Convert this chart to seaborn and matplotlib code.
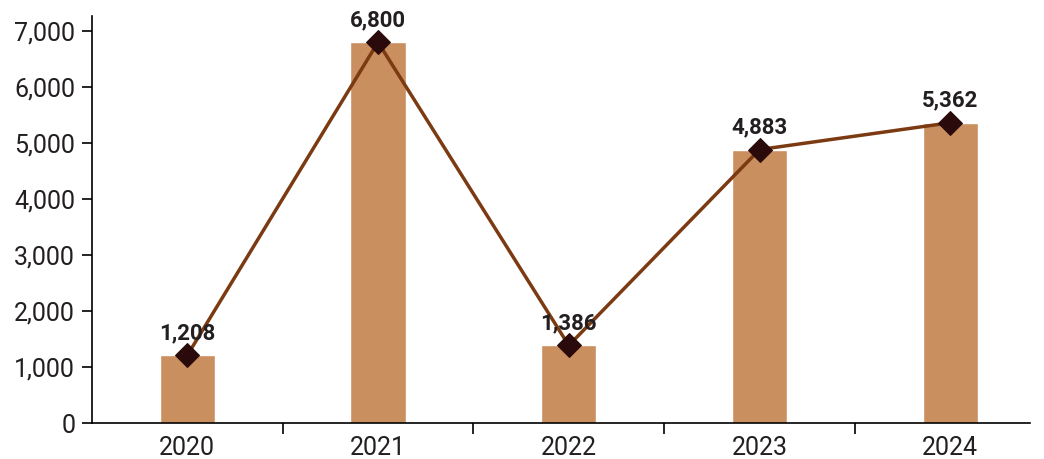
import matplotlib
matplotlib.use("Agg")
import matplotlib.pyplot as plt
import seaborn as sns
import numpy as np
import pandas as pd
from matplotlib.ticker import FixedLocator, FuncFormatter

years = ["2020", "2021", "2022", "2023", "2024"]
values = [1208, 6800, 1386, 4883, 5362]
y_ticks = [0, 1000, 2000, 3000, 4000, 5000, 6000, 7000]

bar_color = "#C98F5F"
line_color = "#7B3A12"
marker_color = "#2A0A0A"
text_color = "#231F20"

sns.set_theme(style="white")
plt.rcParams["font.family"] = ["Roboto", "DejaVu Sans"]

df = pd.DataFrame({"year": years, "value": values})

fig = plt.figure(figsize=(10.44, 4.59), dpi=100)
ax = fig.add_axes([0.088, 0.0784, 0.899, 0.887])

sns.barplot(data=df, x="year", y="value", color=bar_color, width=0.29,
            saturation=1, ax=ax)
pos = np.arange(len(years))
sns.lineplot(x=pos, y=values, ax=ax, color=line_color, linewidth=2.5,
             marker="D", markersize=12, markerfacecolor=marker_color,
             markeredgecolor=marker_color, zorder=3)

for x, v in zip(pos, values):
    ax.annotate(f"{v:,}", (x, v), xytext=(0, 8), textcoords="offset points",
                ha="center", va="bottom", fontsize=16, fontweight="bold",
                color=text_color)

ax.set_xlim(-0.5, 4.42)
ax.set_ylim(0, 7270)
ax.yaxis.set_major_locator(FixedLocator(y_ticks))
ax.yaxis.set_major_formatter(FuncFormatter(lambda v, p: f"{int(v):,}"))
ax.set_xlabel("")
ax.set_ylabel("")

for s in ["top", "right"]:
    ax.spines[s].set_visible(False)
for s in ["left", "bottom"]:
    ax.spines[s].set_color("#000000")
    ax.spines[s].set_linewidth(1.2)

ax.tick_params(axis="y", which="major", left=True, length=7, width=1.2,
               color="#000000", labelsize=18, labelcolor=text_color, pad=5)
ax.tick_params(axis="x", which="major", bottom=False, labelsize=18,
               labelcolor=text_color, pad=3)
ax.xaxis.set_minor_locator(FixedLocator([0.5, 1.5, 2.5, 3.5]))
ax.tick_params(axis="x", which="minor", bottom=True, length=8, width=1.2,
               color="#000000", direction="out")

fig.savefig("out.png", dpi=100)
